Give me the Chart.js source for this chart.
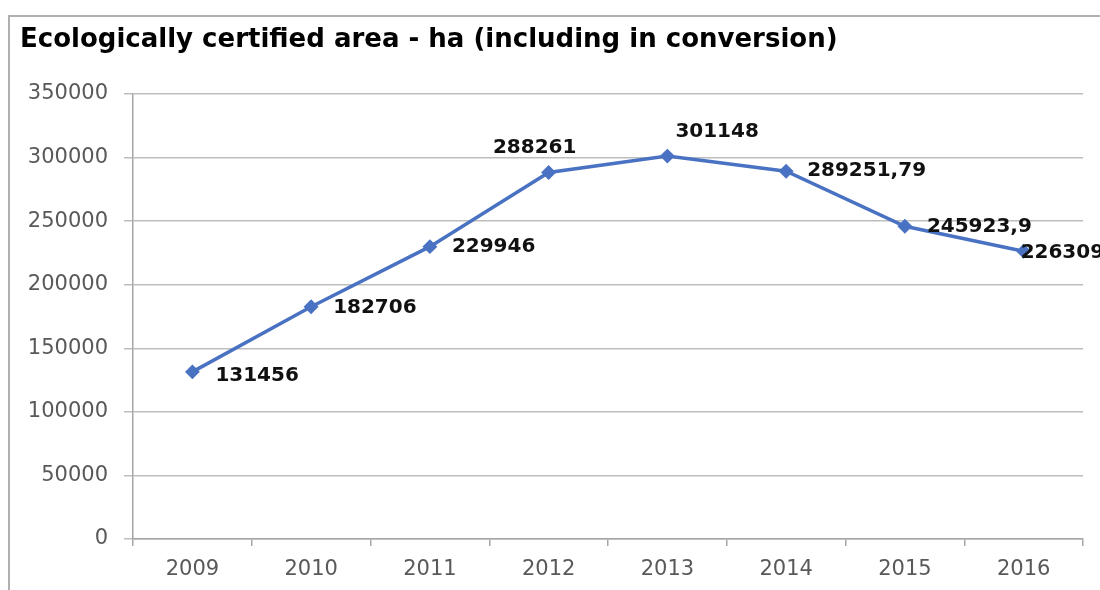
<!DOCTYPE html>
<html lang="en">
<head>
<meta charset="UTF-8">
<title>Ecologically certified area - ha (including in conversion)</title>
<script src="https://cdn.jsdelivr.net/npm/chart.js"></script>
<style>
  html, body { margin: 0; padding: 0; background: #fff; }
  #wrap { position: relative; width: 1100px; height: 590px; }
  #frame { position: absolute; left: 8px; top: 15px; right: 0; bottom: 0;
           border-left: 2px solid #b0b0b0; border-top: 2px solid #b0b0b0; }
  canvas { position: absolute; left: 0; top: 0; }
</style>
</head>
<body>
<div id="wrap">
  <div id="frame"></div>
  <canvas id="chart" width="1100" height="590"></canvas>
</div>

<script>
var titulo = 'Ecologically certified area - ha (including in conversion)';
var anios = ['2009', '2010', '2011', '2012', '2013', '2014', '2015', '2016'];
var area = [131456, 182706, 229946, 288261, 301148, 289251.79, 245923.9, 226309];
var ticksY = [0, 50000, 100000, 150000, 200000, 250000, 300000, 350000];

// desplazamiento de cada etiqueta respecto a su punto (x, y, alineacion)
var etiquetaPos = [
  [23, 4, 'left'], [22, 1, 'left'], [22, 0, 'left'], [-14, -25, 'center'],
  [8, -24, 'left'], [21, 0, 'left'], [22, 0, 'left'], [-3, 2, 'left']
];

var fuente = '"DejaVu Sans", sans-serif';

var tituloPlugin = {
  id: 'tituloPlugin',
  afterDraw: function(chart) {
    var ctx = chart.ctx;
    ctx.save();
    ctx.font = 'bold 26px ' + fuente;
    ctx.fillStyle = '#000';
    ctx.textBaseline = 'middle';
    ctx.fillText(titulo, 20, 40);
    ctx.restore();
  }
};

var etiquetasPlugin = {
  id: 'etiquetasPlugin',
  afterDatasetsDraw: function(chart) {
    var ctx = chart.ctx;
    var meta = chart.getDatasetMeta(0);
    ctx.save();
    ctx.font = 'bold 20px ' + fuente;
    ctx.fillStyle = '#111';
    ctx.textBaseline = 'middle';
    meta.data.forEach(function(pt, i) {
      var p = etiquetaPos[i];
      ctx.textAlign = p[2];
      ctx.fillText(String(area[i]).replace('.', ','), pt.x + p[0], pt.y + p[1]);
    });
    ctx.restore();
  }
};

var ctx = document.getElementById('chart').getContext('2d');
new Chart(ctx, {
  type: 'line',
  data: {
    labels: anios,
    datasets: [{
      data: area,
      borderColor: '#4a72c2',
      backgroundColor: '#4a72c2',
      borderWidth: 3.5,
      pointStyle: 'rectRot',
      pointRadius: 5,
      pointHoverRadius: 5,
      tension: 0,
      fill: false
    }]
  },
  options: {
    responsive: false,
    animation: false,
    events: [],
    layout: { padding: { top: 94, right: 17, left: 0, bottom: 0 } },
    plugins: {
      legend: { display: false },
      tooltip: { enabled: false }
    },
    scales: {
      x: {
        offset: true,
        afterFit: function(s) { s.height = 51; },
        grid: {
          offset: true,
          drawOnChartArea: false,
          drawTicks: true,
          tickLength: 7,
          color: '#a6a6a6',
          lineWidth: 1.5
        },
        border: { color: '#a6a6a6', width: 1.5 },
        ticks: {
          color: '#595959',
          padding: 11,
          font: { family: fuente, size: 21 }
        }
      },
      y: {
        min: 0,
        max: 350000,
        afterFit: function(s) { s.width = 133; },
        afterBuildTicks: function(s) {
          s.ticks = ticksY.map(function(v) { return { value: v }; });
        },
        grid: {
          color: '#bdbdbd',
          lineWidth: 1.5,
          tickLength: 9
        },
        border: { color: '#a6a6a6', width: 1.5 },
        ticks: {
          color: '#595959',
          padding: 16,
          font: { family: fuente, size: 21 },
          callback: function(v) { return String(v); }
        }
      }
    }
  },
  plugins: [tituloPlugin, etiquetasPlugin]
});
</script>
</body>
</html>
